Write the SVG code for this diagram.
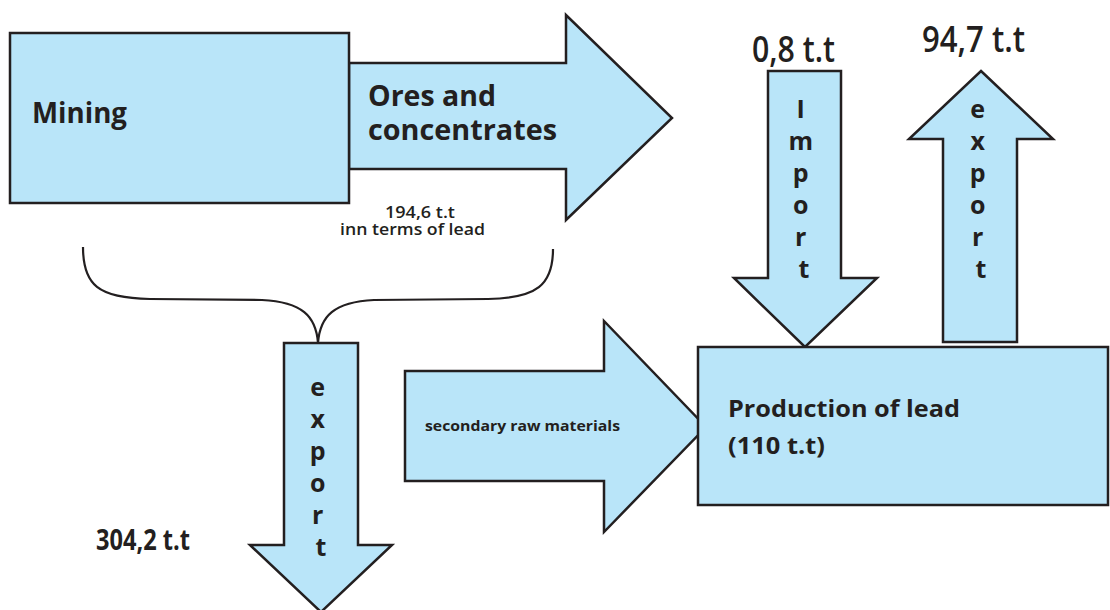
<svg xmlns="http://www.w3.org/2000/svg" width="1110" height="610" viewBox="0 0 1110 610">
  <style>
    .shape { fill: #b9e5f9; stroke: #231f20; stroke-width: 2.5; stroke-linejoin: miter; }
    .brace { fill: none; stroke: #231f20; stroke-width: 2.2; }
    text { font-family: "Open Sans", "Liberation Sans", sans-serif; font-weight: 700; fill: #231f20; }
    .big { font-size: 29px; }
    .num { font-size: 36px; font-weight: 600; }
    .small { font-size: 17px; font-weight: 600; }
    .mid { font-size: 24px; }
    .vert { font-size: 25px; text-anchor: middle; }
  </style>
  <rect width="1110" height="610" fill="#ffffff"/>

  <!-- connectors: flow arrows and brace -->
  <g id="connectors">
    <g id="ores-arrow">
      <polygon class="shape" points="349,63 566,63 566,15 672,118 566,220 566,169 349,169"/>
      <text class="big">
        <tspan x="368" y="106" textLength="128" lengthAdjust="spacingAndGlyphs">Ores and</tspan>
        <tspan x="368" y="140" textLength="189" lengthAdjust="spacingAndGlyphs">concentrates</tspan>
      </text>
    </g>
    <g id="ores-label">
      <text class="small">
        <tspan x="385" y="218" textLength="70" lengthAdjust="spacingAndGlyphs">194,6 t.t</tspan>
        <tspan x="340" y="235" textLength="145" lengthAdjust="spacingAndGlyphs">inn terms of lead</tspan>
      </text>
    </g>
    <g id="brace">
      <path class="brace" d="M83,247 C83,285 98,298 150,299 L262,300 C302,302 316,316 318,343"/>
      <path class="brace" d="M553,249 C553,285 537,298 488,299 L374,300 C334,302 320,316 318,343"/>
    </g>
    <g id="export-down">
      <polygon class="shape" points="284,343 358,343 358,545 392,545 321,612 250,545 284,545"/>
      <text class="vert">
        <tspan x="321" y="396">e</tspan>
        <tspan x="321" y="428">x</tspan>
        <tspan x="321" y="460">p</tspan>
        <tspan x="321" y="492">o</tspan>
        <tspan x="321" y="524">r</tspan>
        <tspan x="321" y="556">t</tspan>
      </text>
    </g>
    <g id="secondary-arrow">
      <polygon class="shape" points="405,371 604,371 604,321 706,427 604,532 604,481 405,481"/>
      <text x="425" y="431" font-size="15" font-weight="600" textLength="195" lengthAdjust="spacingAndGlyphs">secondary raw materials</text>
    </g>
    <g id="import-arrow">
      <polygon class="shape" points="768,71 841,71 841,278 877,278 805,347 734,278 768,278"/>
      <text class="vert">
        <tspan x="804" y="118">I</tspan>
        <tspan x="804" y="150">m</tspan>
        <tspan x="804" y="182">p</tspan>
        <tspan x="804" y="214">o</tspan>
        <tspan x="804" y="246">r</tspan>
        <tspan x="804" y="278">t</tspan>
      </text>
    </g>
    <g id="export-up">
      <polygon class="shape" points="981,71 1053,139 1017,139 1017,342 943,342 943,139 909,139"/>
      <text class="vert">
        <tspan x="981" y="118">e</tspan>
        <tspan x="981" y="150">x</tspan>
        <tspan x="981" y="182">p</tspan>
        <tspan x="981" y="214">o</tspan>
        <tspan x="981" y="246">r</tspan>
        <tspan x="981" y="278">t</tspan>
      </text>
    </g>
  </g>

  <!-- quantity labels -->
  <g id="labels">
    <text class="num" x="752" y="62" textLength="83" lengthAdjust="spacingAndGlyphs">0,8 t.t</text>
    <text class="num" x="922" y="52" textLength="103" lengthAdjust="spacingAndGlyphs">94,7 t.t</text>
    <text class="big" x="96" y="550" font-weight="600" textLength="94" lengthAdjust="spacingAndGlyphs">304,2 t.t</text>
  </g>

  <!-- nodes -->
  <g id="mining">
    <rect class="shape" x="10" y="33" width="339" height="170"/>
    <text class="big" x="32" y="123" textLength="95" lengthAdjust="spacingAndGlyphs">Mining</text>
  </g>
  <g id="production">
    <rect class="shape" x="698" y="347" width="410" height="158"/>
    <text class="mid">
      <tspan x="728" y="417" textLength="232" lengthAdjust="spacingAndGlyphs">Production of lead</tspan>
      <tspan x="728" y="454" textLength="97" lengthAdjust="spacingAndGlyphs">(110 t.t)</tspan>
    </text>
  </g>
</svg>
